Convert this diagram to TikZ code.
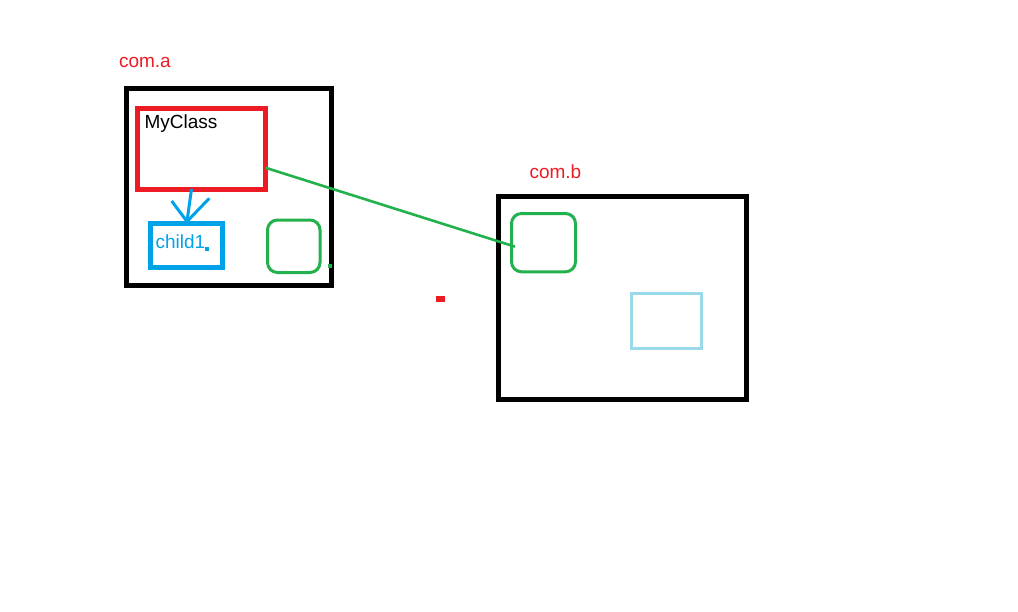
\documentclass[tikz,border=0pt]{standalone}
\usepackage{fontspec}
\setmainfont{Liberation Sans}
\usetikzlibrary{calc}
\definecolor{pred}{HTML}{ED1C24}
\definecolor{pblue}{HTML}{00A2E8}
\definecolor{pgreen}{HTML}{22B14C}
\definecolor{plblue}{HTML}{99D9EA}
\tikzset{
  box/.style={draw, rectangle, inner sep=0pt, outer sep=0pt},
  label/.style={inner sep=0pt, outer sep=0pt, anchor=base west, font=\fontsize{19pt}{22pt}\selectfont},
}
\begin{document}
\begin{tikzpicture}[x=1pt,y=-1pt]
\path[use as bounding box, fill=white] (0,0) rectangle (1018,611);
% package a
\node[box, line width=5pt, minimum width=204.5pt, minimum height=197pt] (pa) at (228.75,187) {};
\node[box, draw=pred, line width=5pt, minimum width=128pt, minimum height=80.5pt] (red) at (201.5,148.75) {};
\node[box, draw=pblue, line width=5pt, minimum width=72pt, minimum height=44pt] (blue) at (186,245.5) {};
\node[box, draw=pgreen, line width=3pt, rounded corners=10pt, minimum width=52.5pt, minimum height=52.5pt] (ga) at (293.75,246.25) {};
% package b
\node[box, line width=5pt, minimum width=248pt, minimum height=202.5pt] (pb) at (622.5,297.75) {};
\node[box, draw=pgreen, line width=3pt, rounded corners=10pt, minimum width=64pt, minimum height=58.3pt] (gb) at (543.5,242.65) {};
\node[box, draw=plblue, line width=3pt, minimum width=69.8pt, minimum height=55pt] (lb) at (666.6,321) {};
% texts
\node[label, text=pred] (ta) at (119,67) {com.a};
\node[label, text=pred] (tb) at (529.5,178) {com.b};
\node[label, text=black] (tm) at (144.5,128.5) {MyClass};
\node[label, text=pblue] (tc) at (155.5,248) {child1};
% connector green
\draw[pgreen, line width=2.6pt] ([yshift=-19pt]red.east) -- ([xshift=-28.5pt,yshift=-4pt]gb.center);
% blue arrow
\coordinate (tip) at ([xshift=1pt,yshift=2pt]blue.north);
\draw[pblue, line width=3pt] ([xshift=-10pt]red.south) -- (tip);
\draw[pblue, line width=3pt] (tip) -- ++(-15.3,-20.5);
\draw[pblue, line width=3pt] (tip) -- ++(22.3,-23.2);
% small marks
\fill[pblue] (205,246.7) rectangle (209.3,250.7);
\fill[pgreen] (327.5,264) rectangle (331.5,267.5);
\fill[pred] (436,296) rectangle (445,302);
\end{tikzpicture}
\end{document}
